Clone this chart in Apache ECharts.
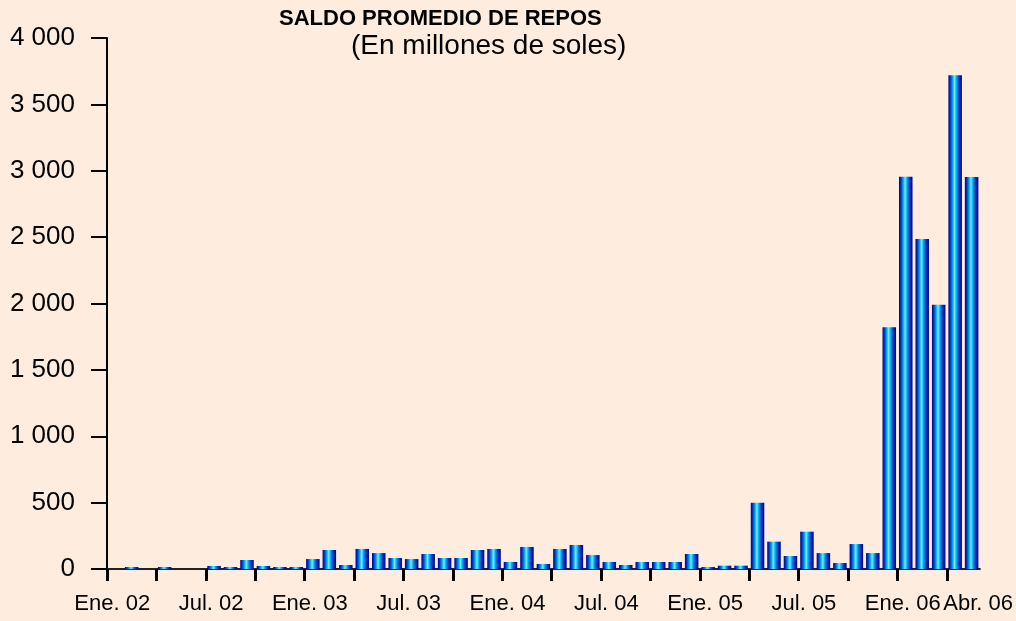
<!DOCTYPE html>
<html>
<head>
<meta charset="utf-8">
<title>Saldo promedio de repos</title>
<script src="https://cdn.jsdelivr.net/npm/echarts@6/dist/echarts.min.js"></script>
<style>
  html, body { margin: 0; padding: 0; background: #feeddf; }
  #chart { width: 1016px; height: 621px; }
</style>
</head>
<body>
<div id="chart"></div>
<script>
// months Ene. 02 .. May. 06
const months = [
  'Ene. 02', 'Feb. 02', 'Mar. 02', 'Abr. 02', 'May. 02', 'Jun. 02',
  'Jul. 02', 'Ago. 02', 'Sep. 02', 'Oct. 02', 'Nov. 02', 'Dic. 02',
  'Ene. 03', 'Feb. 03', 'Mar. 03', 'Abr. 03', 'May. 03', 'Jun. 03',
  'Jul. 03', 'Ago. 03', 'Sep. 03', 'Oct. 03', 'Nov. 03', 'Dic. 03',
  'Ene. 04', 'Feb. 04', 'Mar. 04', 'Abr. 04', 'May. 04', 'Jun. 04',
  'Jul. 04', 'Ago. 04', 'Sep. 04', 'Oct. 04', 'Nov. 04', 'Dic. 04',
  'Ene. 05', 'Feb. 05', 'Mar. 05', 'Abr. 05', 'May. 05', 'Jun. 05',
  'Jul. 05', 'Ago. 05', 'Sep. 05', 'Oct. 05', 'Nov. 05', 'Dic. 05',
  'Ene. 06', 'Feb. 06', 'Mar. 06', 'Abr. 06', 'May. 06'
];

// saldo promedio, millones de soles
const saldo = [
  0, 15, 0, 15, 0, 0, 23, 15, 68, 23, 15, 15,
  75, 143, 30, 151, 120, 83, 75, 113, 83, 83, 143, 151,
  53, 166, 38, 151, 181, 105, 53, 30, 53, 53, 53, 113,
  15, 25, 25, 499, 206, 98, 281, 120, 45, 188, 120, 1822,
  2955, 2485, 1990, 3720, 2952
];

// which categories get a label under the axis
const labelIdx = [0, 6, 12, 18, 24, 30, 36, 42, 48, 51];
const lastLabel = 51;
// quarterly tick marks (start of Ene, Abr, Jul, Oct)
const quarterTicks = [0, 3, 6, 9, 12, 15, 18, 21, 24, 27, 30, 33, 36, 39, 42, 45, 48, 51];

const yTicks = [0, 500, 1000, 1500, 2000, 2500, 3000, 3500, 4000];

const myChart = echarts.init(document.getElementById('chart'));

const barColor = new echarts.graphic.LinearGradient(0, 0, 1, 0, [
  { offset: 0, color: '#000080' },
  { offset: 0.14, color: '#0038c0' },
  { offset: 0.3, color: '#00a0f0' },
  { offset: 0.45, color: '#70eeff' },
  { offset: 0.6, color: '#00a8f2' },
  { offset: 0.78, color: '#0038c0' },
  { offset: 1, color: '#000080' }
]);

const option = {
  backgroundColor: '#feeddf',
  animation: false,
  title: [
    {
      text: 'SALDO PROMEDIO DE REPOS',
      left: 274,
      top: 3,
      textStyle: {
        fontFamily: 'Liberation Sans, Arial, sans-serif',
        fontSize: 22,
        fontWeight: 'bold',
        color: '#000'
      }
    },
    {
      text: '(En millones de soles)',
      left: 346,
      top: 27,
      textStyle: {
        fontFamily: 'Liberation Sans, Arial, sans-serif',
        fontSize: 28,
        fontWeight: 'normal',
        color: '#000'
      }
    }
  ],
  grid: {
    left: 107,
    right: 34,
    top: 38,
    bottom: 52
  },
  xAxis: [
    {
      type: 'category',
      data: months,
      boundaryGap: true,
      axisLine: {
        lineStyle: { color: '#222', width: 2 }
      },
      axisTick: { show: false },
      axisLabel: {
        interval: function (idx) {
          return labelIdx.indexOf(idx) !== -1;
        },
        formatter: function (val, idx) {
          if (idx === lastLabel) return '{r|' + val + '}';
          return val;
        },
        hideOverlap: false,
        margin: 24,
        padding: [0, 6, 0, 0],
        color: '#000',
        fontFamily: 'Liberation Sans, Arial, sans-serif',
        fontSize: 22,
        rich: {
          r: {
            fontFamily: 'Liberation Sans, Arial, sans-serif',
            fontSize: 22,
            color: '#000',
            padding: [0, 0, 0, 52]
          }
        }
      },
      splitLine: { show: false }
    },
    {
      // only carries the quarterly tick marks
      type: 'value',
      position: 'bottom',
      min: 0,
      max: months.length,
      axisLine: { show: false },
      axisLabel: { show: false },
      axisTick: {
        show: true,
        customValues: quarterTicks,
        length: 12,
        lineStyle: { color: '#000', width: 3 }
      },
      splitLine: { show: false }
    }
  ],
  yAxis: {
    type: 'value',
    min: 0,
    max: 4000,
    interval: 500,
    axisLine: {
      show: true,
      lineStyle: { color: '#000', width: 2 }
    },
    axisTick: {
      show: true,
      length: 16,
      lineStyle: { color: '#000', width: 2 }
    },
    axisLabel: {
      margin: 32,
      padding: [0, 0, 24, 0],
      color: '#000',
      fontFamily: 'Liberation Sans, Arial, sans-serif',
      fontSize: 26,
      formatter: function (v) {
        if (yTicks.indexOf(v) === -1) return '';
        return v >= 1000 ? Math.floor(v / 1000) + ' ' + String(v % 1000).padStart(3, '0') : String(v);
      }
    },
    splitLine: { show: false }
  },
  series: [
    {
      type: 'bar',
      name: 'Saldo',
      xAxisIndex: 0,
      data: saldo,
      barCategoryGap: '18%',
      itemStyle: {
        color: barColor
      }
    }
  ]
};

myChart.setOption(option);

window.addEventListener('resize', function () {
  myChart.resize();
});
</script>
</body>
</html>
